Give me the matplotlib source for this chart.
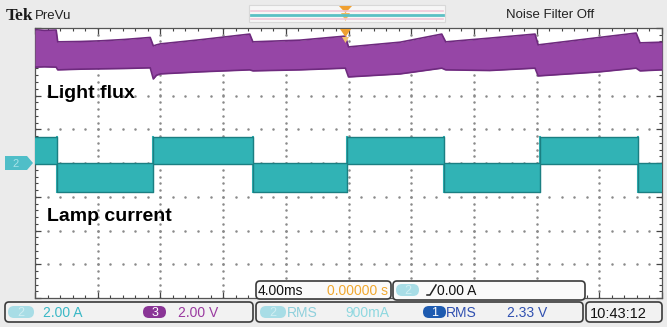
import numpy as np
import matplotlib.pyplot as plt
from matplotlib.patches import FancyBboxPatch, Polygon, Rectangle

# time base 4 ms/div, 10 divisions; vertical in divisions (8 div, ground of ch2 at 0)
flux_t = [0.0, 0.6, 1.35, 1.45, 2.9, 4.2, 5.7, 7.35, 7.55, 7.75, 8.0, 10.5, 13.7, 13.9,
          16.9, 19.8, 20.0, 23.3, 25.95, 26.2, 29.0, 31.9, 32.1, 36.0, 38.35, 38.6, 40.0]
flux_top = [3.95, 3.93, 3.94, 3.59, 3.60, 3.62, 3.66, 3.72, 3.47, 3.50, 3.53, 3.65, 3.82, 3.59,
            3.64, 3.76, 3.44, 3.58, 3.82, 3.59, 3.70, 3.82, 3.50, 3.72, 3.85, 3.56, 3.58]
flux_bot = [2.84, 2.85, 2.84, 2.76, 2.78, 2.79, 2.80, 2.82, 2.49, 2.60, 2.64, 2.70, 2.76, 2.73,
            2.76, 2.81, 2.55, 2.64, 2.81, 2.76, 2.74, 2.81, 2.58, 2.70, 2.81, 2.73, 2.76]

# lamp current (2 A/div): switching instants in ms and state of each segment
cur_edges = [0.0, 1.40, 7.53, 13.9, 19.9, 26.1, 32.2, 38.5, 40.0]
cur_state = [1, 0, 1, 0, 1, 0, 1, 0]
cur_high = (-0.05, 1.55)   # A, noise band while lamp current is high
cur_low = (-1.70, 0.0)     # A, noise band while low
amp_per_div = 2.0

W, H = 667, 327
fig = plt.figure(figsize=(6.67, 3.27), dpi=100, facecolor='#ebebeb')
ax = fig.add_axes([35 / W, 1 - 298 / H, 627 / W, 270 / H])
ax.set_facecolor('white')
ax.set_xlim(0, 40)
ax.set_ylim(-4, 4)

# dotted graticule
minor_y = np.arange(-4, 4.01, 0.2)
minor_x = np.arange(0, 40.01, 0.8)
for gx in range(4, 40, 4):
    ax.plot([gx] * len(minor_y), minor_y, ls='none', marker='.', ms=1.6, color='#8a8a8a', zorder=1)
for gy in range(-3, 4):
    ax.plot(minor_x, [gy] * len(minor_x), ls='none', marker='.', ms=1.6, color='#8a8a8a', zorder=1)

ax.set_xticks(range(0, 41, 4))
ax.set_yticks(range(-4, 5))
ax.set_xticks(minor_x, minor=True)
ax.set_yticks(minor_y, minor=True)
ax.tick_params(which='both', direction='in', top=True, right=True, labelbottom=False, labelleft=False,
               color='#444444')
ax.tick_params(which='major', length=4, width=0.9)
ax.tick_params(which='minor', length=2.5, width=0.8)
for s in ax.spines.values():
    s.set_color('#555555')
    s.set_linewidth(0.9)

# light flux trace
ax.fill_between(flux_t, flux_bot, flux_top, color='#9646a6', lw=0, zorder=3)
ax.plot(flux_t, flux_top, color='#6e2a7e', lw=1.2, zorder=4)
ax.plot(flux_t, flux_bot, color='#6e2a7e', lw=1.2, zorder=4)

# lamp current trace
tt, lo, hi = [], [], []
for i, st in enumerate(cur_state):
    band = cur_high if st else cur_low
    tt += [cur_edges[i], cur_edges[i + 1]]
    lo += [band[0] / amp_per_div] * 2
    hi += [band[1] / amp_per_div] * 2
ax.fill_between(tt, lo, hi, color='#31b3b5', lw=0, zorder=3)
ax.plot(tt, hi, color='#1b7f82', lw=1.0, zorder=4)
ax.plot(tt, lo, color='#1b7f82', lw=1.0, zorder=4)
for e in cur_edges[1:-1]:
    ax.plot([e, e], [cur_low[0] / amp_per_div, cur_high[1] / amp_per_div], color='#31b3b5', lw=1.5, zorder=3)

ax.text(0.75, 1.93, 'Light flux', fontsize=14, fontweight='bold', family='Liberation Sans', zorder=6)
ax.text(0.75, -1.73, 'Lamp current', fontsize=14, fontweight='bold', family='Liberation Sans', zorder=6)

# screen overlay in pixel coordinates
ov = fig.add_axes([0, 0, 1, 1], zorder=5)
ov.set_xlim(0, W)
ov.set_ylim(H, 0)
ov.axis('off')
narrow = ['Liberation Sans Narrow', 'Liberation Sans']

ov.text(6, 20, 'Tek', family='Liberation Serif', fontweight='bold', fontsize=12.5, color='#1a1a1a')
ov.text(35, 19, 'PreVu', family='Liberation Sans', fontsize=9.5, color='#222222')
ov.text(550, 18, 'Noise Filter Off', family='Liberation Sans', fontsize=9.5, color='#222222', ha='center')

# record bar with trigger marker
ov.add_patch(Rectangle((249, 5), 196, 17, fc='#f6f6f6', ec='#d8d8d8', lw=0.8))
ov.plot([251, 443], [11, 11], color='#f2c8d8', lw=1.2)
ov.plot([251, 443], [19, 19], color='#f2c8d8', lw=1.2)
ov.plot([251, 443], [15, 15], color='#5cc0c4', lw=2)
ov.add_patch(Polygon([[339, 6], [352, 6], [345.5, 13]], fc='#f0a030', ec='none'))
ov.add_patch(Polygon([[341, 13], [350, 13], [345.5, 21]], fc='#f3b860', ec='none'))
ov.add_patch(Polygon([[340, 29], [351, 29], [345.5, 37]], fc='#f0a030', ec='none'))
ov.add_patch(Polygon([[342, 37], [349, 37], [345.5, 43]], fc='#f3c070', ec='none'))

# channel 2 ground marker
ov.add_patch(Polygon([[5, 156], [27, 156], [33, 163], [27, 170], [5, 170]], fc='#4fbec8', ec='none'))
ov.text(16, 167, '2', fontsize=8, color='#a8e2e8', ha='center', family=narrow)


def box(x0, y0, x1, y1, fc='#f2f2f2'):
    ov.add_patch(FancyBboxPatch((x0, y0), x1 - x0, y1 - y0, boxstyle='round,pad=0,rounding_size=4',
                                fc=fc, ec='#3a3a3a', lw=1.2))


def pill(x0, x1, yc, fc, label, tc):
    ov.add_patch(FancyBboxPatch((x0, yc - 6), x1 - x0, 12, boxstyle='round,pad=0,rounding_size=6',
                                fc=fc, ec='none'))
    ov.text((x0 + x1) / 2, yc + 4, label, fontsize=9, color=tc, ha='center', family=narrow)


box(256, 281, 391, 299, fc='#fafafa')
box(393, 281, 585, 300, fc='#fafafa')
box(5, 302, 253, 322)
box(256, 302, 583, 322)
box(586, 302, 662, 322)

ov.text(258, 295, '4.00ms', fontsize=10, color='#111111', family=narrow)
ov.text(388, 295, '0.00000 s', fontsize=10, color='#f0a830', ha='right', family=narrow)
pill(396, 419, 290, '#a8dde6', '2', '#d0eef2')
ov.plot([427, 430, 436], [295, 295, 285], color='#222222', lw=1.1)
ov.text(437, 295, '0.00 A', fontsize=10, color='#111111', family=narrow)

pill(8, 34, 312, '#a8dde6', '2', '#d0eef2')
ov.text(43, 317, '2.00 A', fontsize=10, color='#3ab8c6', family=narrow)
pill(143, 166, 312, '#8a3596', '3', 'white')
ov.text(178, 317, '2.00 V', fontsize=10, color='#9a3aa0', family=narrow)
pill(260, 286, 312, '#a8dde6', '2', '#d0eef2')
ov.text(287, 317, 'RMS', fontsize=10, color='#8fd0dc', family=narrow)
ov.text(345, 317, '900mA', fontsize=10, color='#8fd8e0', family=narrow)
pill(423, 446, 312, '#1e5bb0', '1', 'white')
ov.text(446, 317, 'RMS', fontsize=10, color='#3050b0', family=narrow)
ov.text(507, 317, '2.33 V', fontsize=10, color='#3050b0', family=narrow)
ov.text(590, 318, '10:43:12', fontsize=10.5, color='#111111', family=narrow)

fig.savefig('out.png', dpi=100, facecolor=fig.get_facecolor())
